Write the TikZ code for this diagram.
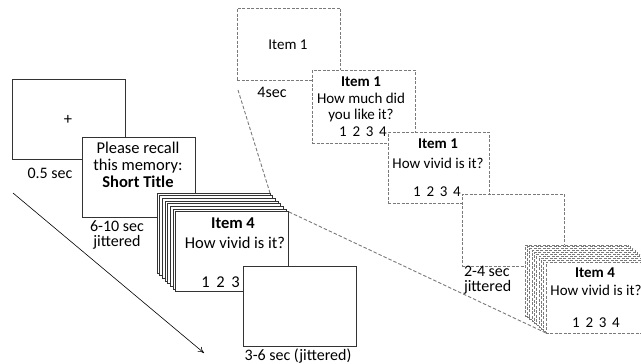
\documentclass[tikz,border=0pt]{standalone}
\usepackage{fontspec}
\setmainfont{Carlito}
\usetikzlibrary{arrows.meta}
\begin{document}
\begin{tikzpicture}[x=1pt, y=-1pt]
\tikzset{ >={To[length=6pt,width=6pt]}, inner sep=0pt, outer sep=0pt,
  card/.style={draw=black!80, line width=0.9pt, fill=white, minimum width=113pt, minimum height=80pt, anchor=north west},
  dcard/.style={draw=black!52, dash pattern=on 3pt off 1.5pt, line width=0.9pt, fill=white, minimum width=103pt, minimum height=72pt, anchor=north west},
  zoomline/.style={draw=black!52, dash pattern=on 3.5pt off 2pt, line width=0.9pt},
  ltxt/.style={font=\fontsize{16.5}{17}\selectfont, align=center},
  rtxt/.style={font=\fontsize{15}{17}\selectfont, align=center},
  lbl/.style={font=\fontsize{16}{15}\selectfont, align=center},
}

\useasboundingbox (0,0) rectangle (641,364);

% time arrow
\coordinate (tA) at (13,193);
\coordinate (tB) at (204,353);
\draw [->, line width=0.6pt] (tA) -- (tB);

% left: one trial
\node [card] (fix) at (12,79) {};
\node [ltxt] (plus) at (68,120) {+};
\node [lbl] (fixT) at (50,173) {0.5 sec};

\node [card] (cue) at (82,137) {};
\node [ltxt] (cueTxt) at (138,165) {Please recall\\this memory:\\\textbf{Short Title}};
\node [lbl] (cueT) at (117,235) {6-10 sec\\jittered};

\foreach \i in {0,...,7}
  \node [card] (stk\i) at ({157+2.7*\i},{193+2.7*\i}) {};
\node [ltxt] (stkItem) at (233,223) {\textbf{Item 4}};
\node [ltxt] (stkQ) at (235,243) {How vivid is it?};
\node [ltxt] (stkNum) at (228,282) {1\hspace{0.4em}2\hspace{0.4em}3\hspace{0.4em}4};

\node [card] (iti) at (243,266) {};
\node [lbl] (itiT) at (298,356) {3-6 sec (jittered)};

% right: one item
\node [dcard] (itA) at (237,8) {};
\node [rtxt] (itATxt) at (288,45) {Item 1};
\node [lbl] (itAT) at (272,92) {4sec};

\node [dcard, minimum height=73pt] (itB) at (312,70) {};
\node [rtxt] (itBItem) at (361,82) {\textbf{Item 1}};
\node [rtxt] (itBQ) at (361,107.5) {How much did\\you like it?};
\node [rtxt] (itBNum) at (363,132) {1\hspace{0.38em}2\hspace{0.38em}3\hspace{0.38em}4};

\node [dcard, minimum width=101pt, minimum height=71pt] (itC) at (388,132) {};
\node [rtxt] (itCItem) at (438,144) {\textbf{Item 1}};
\node [rtxt] (itCQ) at (438,163) {How vivid is it?};
\node [rtxt] (itCNum) at (437,192) {1\hspace{0.38em}2\hspace{0.38em}3\hspace{0.38em}4};

\node [dcard, minimum width=102pt] (itD) at (462,194) {};
\node [lbl, align=left, anchor=west] (itDT) at (464,280) {2-4 sec\\jittered};

\draw [zoomline] (stk7.north east) -- (546,333) coordinate (eCorner);

\foreach \i in {0,...,9}
  \node [dcard, minimum height=71pt] (estk\i) at ({525+2.33*\i},{245+1.89*\i}) {};
\node [rtxt] (eItem) at (595,273) {\textbf{Item 4}};
\node [rtxt] (eQ) at (596,290) {How vivid is it?};
\node [rtxt] (eNum) at (596,323) {1\hspace{0.38em}2\hspace{0.38em}3\hspace{0.38em}4};

\coordinate (zA) at (238,90);
\draw [zoomline] (zA) -- (stk0.north east);
\end{tikzpicture}
\end{document}
